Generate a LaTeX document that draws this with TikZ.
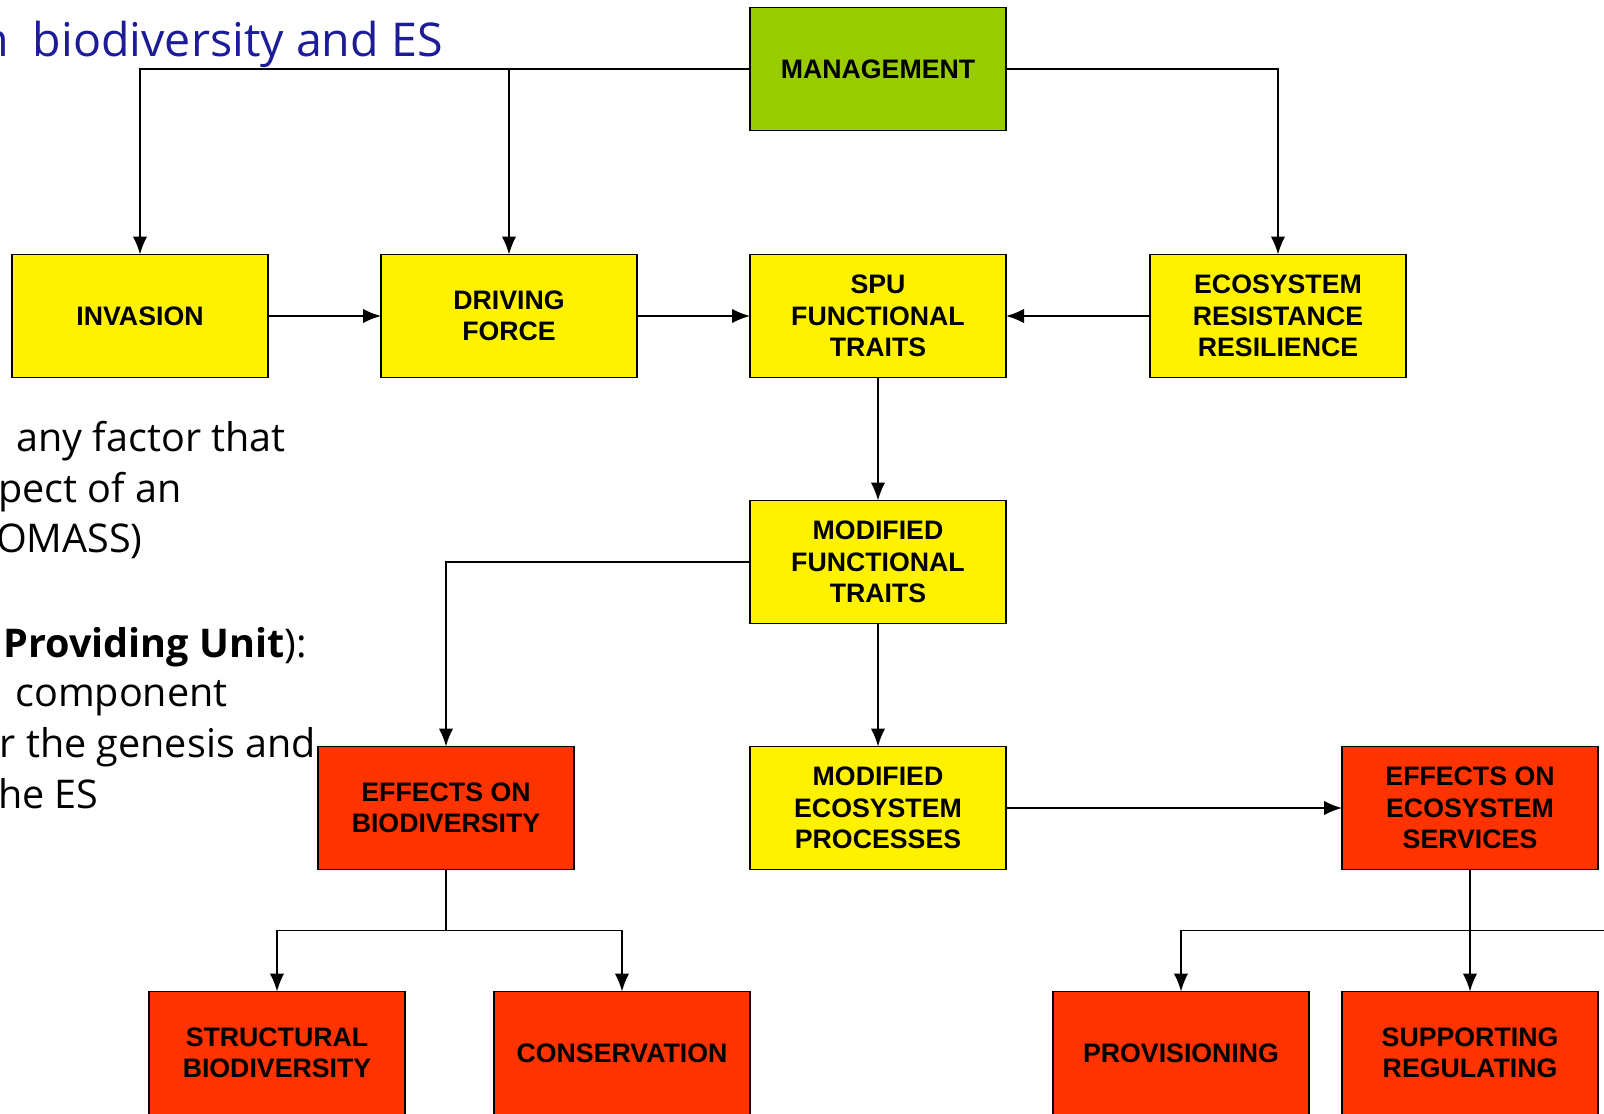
\documentclass[tikz,border=0pt]{standalone}
\usepackage{fontspec}
\setmainfont{Liberation Sans}
\newfontfamily\notefont{Open Sans}
\usetikzlibrary{positioning}
\usetikzlibrary{shapes,arrows,arrows.meta}
\definecolor{mgmtgreen}{RGB}{153,204,0}
\definecolor{effectred}{RGB}{255,51,0}
\definecolor{titleblue}{RGB}{28,28,150}

\begin{document}
\begin{tikzpicture}[blockbox/.style={rectangle,
                                     draw=black, line width=0.35mm,
                                     minimum width=5.12cm, minimum height=2.46cm,
                                     inner sep=0mm, outer sep=0,
                                     align=center,
                                     font=\fontsize{15.2}{17.8}\selectfont\bfseries
                                    },
                    link/.style={
                                 line width=0.35mm,
                                 ->,
                                 >={Latex[length=3.6mm,width=2.9mm]}
                                },
                    note/.style={anchor=base east, inner sep=0,
                                 font=\notefont\fontsize{22.5}{28}\selectfont}
                   ]
  \useasboundingbox (0,0) rectangle (32.08,-22.26);

  \node[blockbox,fill=yellow] (inv) at (2.80,-6.32) {INVASION};
  \node[blockbox,right=2.26cm of inv,fill=yellow] (drive) {DRIVING\\FORCE};
  \node[blockbox,right=2.26cm of drive,fill=yellow] (spu) {SPU\\FUNCTIONAL\\TRAITS};
  \node[blockbox,right=2.88cm of spu,fill=yellow] (resil) {ECOSYSTEM\\RESISTANCE\\RESILIENCE};
  \node[blockbox,above=2.48cm of spu,fill=mgmtgreen] (mgmt) {MANAGEMENT};
  \node[blockbox,below=2.46cm of spu,fill=yellow] (modft) {MODIFIED\\FUNCTIONAL\\TRAITS};
  \node[blockbox,below=2.46cm of modft,fill=yellow] (modproc) {MODIFIED\\ECOSYSTEM\\PROCESSES};
  \node[blockbox,left=3.52cm of modproc,fill=effectred] (effbio) {EFFECTS ON\\BIODIVERSITY};
  \node[blockbox,right=6.72cm of modproc,fill=effectred] (effes) {EFFECTS ON\\ECOSYSTEM\\SERVICES};
  \node[blockbox,below=2.44cm of effbio,xshift=-3.38cm,fill=effectred] (struct) {STRUCTURAL\\BIODIVERSITY};
  \node[blockbox,below=2.44cm of effbio,xshift=3.52cm,fill=effectred] (cons) {CONSERVATION};
  \node[blockbox,below=2.44cm of effes,xshift=-5.78cm,fill=effectred] (prov) {PROVISIONING};
  \node[blockbox,below=2.44cm of effes,fill=effectred] (supp) {SUPPORTING\\REGULATING};

  % management feeds the top row
  \draw [link] (mgmt.west) -| (inv.north);
  \draw [link] (mgmt.west -| drive.north) -- (drive.north);
  \draw [link] (mgmt.east) -| (resil.north);
  \draw [link] (inv) -- (drive);
  \draw [link] (drive) -- (spu);
  \draw [link] (resil) -- (spu);
  \draw [link] (spu) -- (modft);
  \draw [link] (modft) -- (modproc);
  \draw [link] (modproc) -- (effes);
  \draw [link] (modft.west) -| (effbio.north);

  % forks to the bottom row
  \coordinate[below=1.22cm of effbio.south] (biofork);
  \draw [line width=0.35mm] (effbio.south) -- (biofork);
  \draw [link] (biofork) -| (struct.north);
  \draw [link] (biofork) -| (cons.north);
  \coordinate[below=1.22cm of effes.south] (esfork);
  \coordinate[right=3cm of esfork] (esout);
  \draw [link] (effes) -- (supp);
  \draw [link] (esout) -| (prov.north);

  % slide text
  \node[note,text=titleblue,font=\notefont\fontsize{26.5}{30}\selectfont] (title) at (8.86,-1.13) {n\ \ biodiversity and ES};
  \node[note] (line1) at (5.72,-9.02) {any factor that};
  \node[note] (line2) at (3.64,-10.04) {pect of an};
  \node[note] (line3) at (2.86,-11.04) {OMASS)};
  \node[note] (line4) at (6.14,-13.14) {\textbf{Providing Unit}):};
  \node[note] (line5) at (4.56,-14.12) {component};
  \node[note] (line6) at (6.32,-15.14) {r the genesis and};
  \node[note] (line7) at (1.98,-16.16) {he ES};
\end{tikzpicture}
\end{document}
